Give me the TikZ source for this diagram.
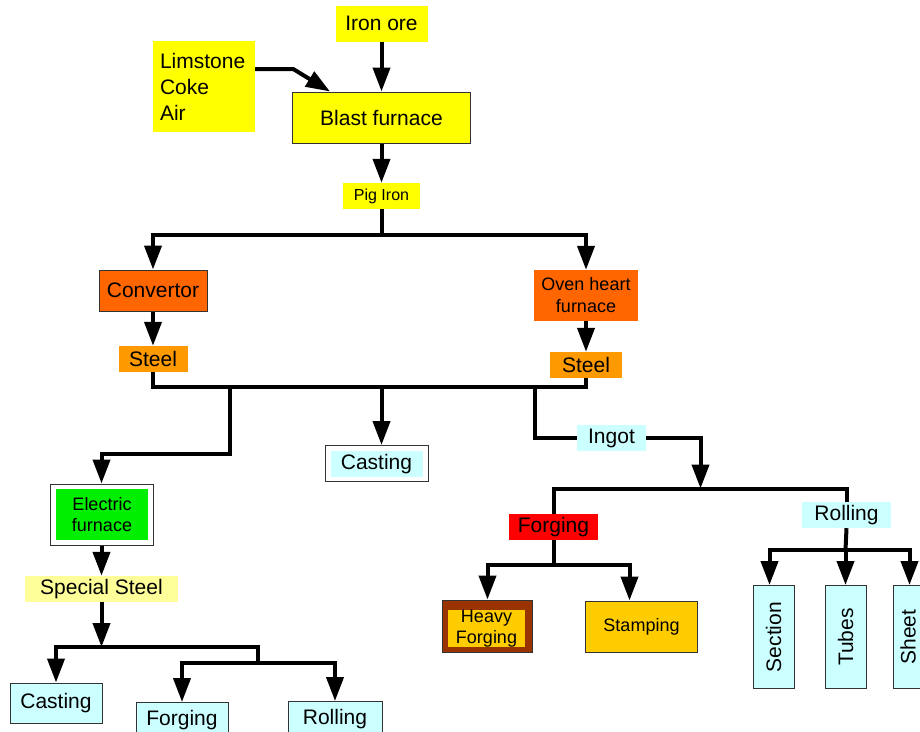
\documentclass[tikz,border=0pt]{standalone}
\usepackage{fontspec}
\setmainfont{Liberation Sans}
\usetikzlibrary{arrows.meta}
\definecolor{cyel}{HTML}{FFFF00}
\definecolor{corange}{HTML}{FF6600}
\definecolor{csteel}{HTML}{FF9900}
\definecolor{ccyan}{HTML}{CCFFFF}
\definecolor{cred}{HTML}{FF0000}
\definecolor{cbrown}{HTML}{993300}
\definecolor{cgold}{HTML}{FFCC00}
\definecolor{cgreen}{HTML}{00EE00}
\definecolor{cpale}{HTML}{FFFF99}
\newcommand\fsz[2]{\fontsize{#1}{#2}\selectfont}
\tikzset{
  nb/.style={inner sep=0pt, align=center, font=\fsz{21}{24}},
  fbox/.style={nb, draw=black!80, line width=1pt},
  sz/.style 2 args={minimum width=#1pt, minimum height=#2pt},
  ln/.style={line width=4pt, line join=miter},
  ar/.style={ln, -{Triangle[width=17pt,length=24pt]}},
}
\begin{document}
\begin{tikzpicture}[x=1pt,y=-1pt]
\useasboundingbox (0,0) rectangle (920,731);
\clip (0,0) rectangle (920,731);
% top
\node[nb, fill=cyel, sz={92}{36}] (ironore) at (381.5,23.5) {Iron ore};
\node[nb, fill=cyel, minimum height=91pt, text width=88pt, inner xsep=7pt, align=left, font=\fsz{21}{26}] (limestone) at (204,86.5) {Limstone\\Coke\\Air};
\node[fbox, fill=cyel, sz={178}{51}] (blast) at (381.5,117.5) {Blast furnace};
\node[nb, fill=cyel, sz={77}{26}, font=\fsz{16}{19}] (pig) at (381.5,196) {Pig Iron};
\coordinate (bus1) at (381.5,234.5);
% furnaces
\node[fbox, fill=corange, sz={108}{41}] (conv) at (153,290.5) {Convertor};
\node[nb, fill=corange, sz={104}{51}, font=\fsz{18}{22}] (oven) at (586,295.5) {Oven heart\\furnace};
\node[nb, fill=csteel, sz={69}{26}] (steel1) at (153,359) {Steel};
\node[nb, fill=csteel, sz={72}{26}] (steel2) at (586,365) {Steel};
\coordinate (bus2) at (381.5,387);
\coordinate (j1) at (229.5,387);
\coordinate (j2) at (534.5,387);
% middle
\node[fbox, fill=white, sz={103}{36}] (castout) at (376.5,463.5) {};
\node[nb, fill=ccyan, sz={92}{26}] (cast) at (376.5,464) {Casting};
\node[nb, fill=ccyan, sz={69}{26}] (ingot) at (611.5,438) {Ingot};
\coordinate (bus3) at (700.5,488.5);
\node[nb, fill=cred, sz={89}{26}] (forging) at (553.5,527) {Forging};
\node[nb, fill=ccyan, sz={89}{26}] (rolling) at (846.5,515) {Rolling};
\coordinate (bus4) at (553.5,565);
\coordinate (bus5) at (845.5,550);
\node[fbox, fill=cbrown, sz={90}{52}] (heavyout) at (487.5,626) {};
\node[nb, fill=cgold, sz={77}{35}, font=\fsz{18}{21}] (heavy) at (486.5,628.5) {Heavy\\Forging};
\node[fbox, fill=cgold, sz={112}{51}, font=\fsz{18}{21}] (stamp) at (641.5,626.5) {Stamping};
\node[fbox, fill=ccyan, sz={41}{103}] (section) at (773.5,637) {\rotatebox{90}{Section}};
\node[fbox, fill=ccyan, sz={41}{103}] (tubes) at (845.5,637) {\rotatebox{90}{Tubes}};
\node[fbox, fill=ccyan, sz={41}{103}] (sheet) at (913.5,637) {\rotatebox{90}{Sheet}\hspace*{11pt}};
% left branch
\node[fbox, fill=white, sz={103}{61}] (electricout) at (101.5,514.5) {};
\node[nb, fill=cgreen, sz={92}{51}, font=\fsz{18}{21}] (electric) at (102,514.5) {Electric\\furnace};
\node[nb, fill=cpale, sz={153}{26}] (special) at (101.5,589) {Special Steel};
\coordinate (bus6) at (101.5,647);
\coordinate (j3) at (258,647);
\coordinate (j4) at (258,662.5);
\node[fbox, fill=ccyan, sz={92}{40}] (casting2) at (56,703) {Casting};
\node[fbox, fill=ccyan, sz={92}{35}] (forging2) at (182,720) {Forging};
\node[fbox, fill=ccyan, sz={94}{36}] (rolling2) at (335,719.5) {Rolling};
% connectors
\draw[ar] (ironore.south) -- (ironore.south |- blast.north);
\draw[ar] ([yshift=17.5pt]limestone.east) -- ++(38,0) -- ([xshift=38pt]blast.north west);
\draw[ar] (blast.south) -- (pig.north);
\draw[ln] (pig.south) -- (bus1);
\draw[ar] (bus1) -| (conv.north);
\draw[ar] (bus1) -| (oven.north);
\draw[ar] (conv.south) -- (steel1.north);
\draw[ar] (oven.south) -- (steel2.north);
\draw[ln] (steel1.south) |- (bus2) -| (steel2.south);
\draw[ar] (j1) -- ++(0,67) -| (electricout.north);
\draw[ar] (bus2) -- (bus2 |- castout.north);
\draw[ln] (j2) |- (ingot.west);
\draw[ar] (ingot.east) -| (bus3);
\draw[ln] (forging.north) |- (bus3) -| (rolling.north);
\draw[ln] (forging.south) -- (bus4);
\draw[ar] (bus4) -| (heavyout.north);
\draw[ar] (bus4) -| ([xshift=-12pt]stamp.north);
\draw[ln] (rolling.south) -- (bus5);
\draw[ar] (bus5) -- (tubes.north);
\draw[ar] (bus5) -| ([xshift=-4pt]section.north);
\draw[ar] (bus5) -| ([xshift=-4pt]sheet.north);
\draw[ar] (electricout.south) -- (special.north);
\draw[ar] (special.south) -- (bus6);
\draw[ar] (j4) -- (j3) -| (casting2.north);
\draw[ar] (j4) -| (forging2.north);
\draw[ar] (j4) -| (rolling2.north);
\end{tikzpicture}
\end{document}
